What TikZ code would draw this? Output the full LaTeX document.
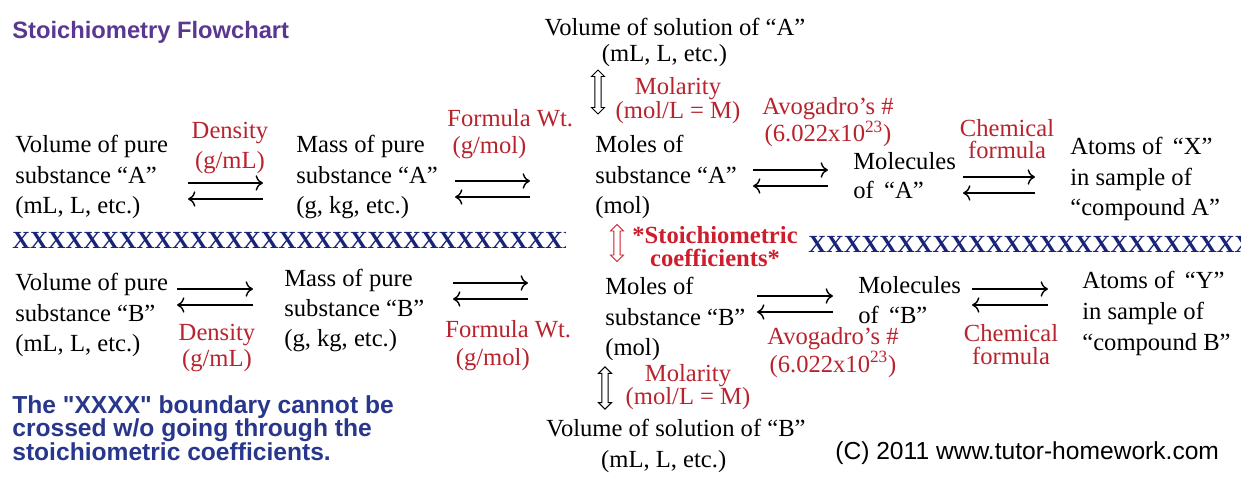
\documentclass[tikz,border=0pt]{standalone}
\usepackage{fontspec}
\setmainfont{Liberation Serif}
\newfontfamily\arialfont{Liberation Sans}
\usetikzlibrary{shapes.arrows,arrows.meta}
\definecolor{labred}{RGB}{185,35,45}
\definecolor{stored}{RGB}{205,30,45}
\definecolor{titlepurple}{RGB}{90,55,145}
\definecolor{notenavy}{RGB}{40,55,140}
\definecolor{xnavy}{RGB}{25,35,120}
\tikzset{
  txt/.style={font=\fontsize{14}{#1}\selectfont, align=left, anchor=base west, inner sep=0pt},
  txt/.default=17.6,
  ctxt/.style={txt=#1, align=center, anchor=base},
  ctxt/.default=17.6,
  lbl/.style={ctxt=#1, text=labred},
  lbl/.default=14.2,
  fwd/.style={-{To[scale=1.25]}, line width=0.8pt},
  hollow/.style={double arrow, draw, line width=0.55pt, rotate=90, inner sep=1.5pt,
    double arrow head extend=1.9pt, double arrow head indent=0pt, minimum height=#1},
  xrow/.style={font=\fontsize{14}{14}\selectfont\bfseries, text=xnavy, anchor=base west, inner sep=0pt},
  sans/.style={anchor=base west, inner sep=0pt, align=left}
}
\begin{document}
\begin{tikzpicture}[x=0.02cm, y=-0.02cm]
    \fill[white] (0,0) rectangle (1250,496);
    \useasboundingbox (0,0) rectangle (1250,496);
    % Title
    \node[sans, text=titlepurple, font=\arialfont\bfseries\fontsize{13.5}{16}\selectfont] (title) at (12,39) {Stoichiometry Flowchart};
    % Substance A row (nodes sit on the baseline of their last line)
    \node[txt] (volA) at (15,214) {Volume of pure\\substance “A”\\(mL, L, etc.)};
    \node[lbl=17.6] (denA) at (230,169) {Density\\(g/mL)};
    \node[txt] (massA) at (296,214) {Mass of pure\\substance “A”\\(g, kg, etc.)};
    \node[lbl=15.9, align=left, anchor=base west] (fwA) at (447,154) {Formula Wt.\\\hspace*{3pt}(g/mol)};
    \node[ctxt=15.3] (solA) at (675,62) {Volume of solution of “A”\\(mL, L, etc.)\hspace*{12pt}};
    \node[hollow=25pt] (upA) at (598,92) {};
    \node[lbl] (molA) at (678,119) {Molarity\\(mol/L = M)};
    \node[txt] (molesA) at (595,214) {Moles of\\substance “A”\\(mol)};
    \node[lbl] (avoA) at (828,142) {Avogadro’s \#\\(6.022x10\textsuperscript{23})};
    \node[txt=17] (molecA) at (853,199) {Molecules\\of \,“A”};
    \node[lbl=13] (chemA) at (1007,159) {Chemical\\formula};
    \node[txt] (atomsA) at (1070,216) {Atoms of \,“X”\\in sample of\\“compound A”};
    % The boundary
    \begin{scope}
      \clip (12,225) rectangle (565,262);
      \node[xrow] (xxL) at (12,249) {XXXXXXXXXXXXXXXXXXXXXXXXXXXXXXXXXXXXXXXX};
    \end{scope}
    \begin{scope}
      \clip (808,228) rectangle (1240,265);
      \node[xrow] (xxR) at (808,253) {XXXXXXXXXXXXXXXXXXXXXXXXXXXXXXXXXXXXXXXX};
    \end{scope}
    \node[hollow=21pt, draw=stored] (stoArr) at (617,243) {};
    \node[ctxt=13.5, text=stored, font=\fontsize{14}{13.5}\selectfont\bfseries] (stoich) at (715,267) {*Stoichiometric\\coefficients*};
    % Substance B row
    \node[txt] (volB) at (15,352) {Volume of pure\\substance “B”\\(mL, L, etc.)};
    \node[lbl=14.7] (denB) at (217,366) {Density\\(g/mL)};
    \node[txt=17] (massB) at (284,346) {Mass of pure\\substance “B”\\(g, kg, etc.)};
    \node[lbl=15.9, align=left, anchor=base west] (fwB) at (445,365) {Formula Wt.\\\hspace*{6pt}(g/mol)};
    \node[txt] (molesB) at (605,356) {Moles of\\substance “B”\\(mol)};
    \node[txt=17] (molecB) at (858,323) {Molecules\\of \,“B”};
    \node[lbl=14.7] (avoB) at (833,372) {Avogadro’s \#\\(6.022x10\textsuperscript{23})};
    \node[lbl=13] (chemB) at (1011,364) {Chemical\\formula};
    \node[txt] (atomsB) at (1082,350) {Atoms of \,“Y”\\in sample of\\“compound B”};
    \node[hollow=24pt] (upB) at (605,388) {};
    \node[lbl=13] (molB) at (688,404) {Molarity\\(mol/L = M)};
    \node[ctxt] (solB) at (676,467) {Volume of solution of “B”\\(mL, L, etc.)\hspace*{14pt}};
    % Reaction arrows, forward above and back below
    \foreach \nm/\xa/\xb/\ya in {d1/188/263/183, f1/455/530/181, a1/753/828/170, c1/963/1035/177,
        d2/177/253/289, f2/453/528/283, a2/757/833/296, c2/972/1048/289}{
      \coordinate (\nm-w) at (\xa,\ya);
      \coordinate (\nm-e) at (\xb,\ya);
      \coordinate (\nm-bw) at (\xa,\ya+16);
      \coordinate (\nm-be) at (\xb,\ya+16);
      \draw[fwd] (\nm-w) -- (\nm-e);
      \draw[fwd] (\nm-be) -- (\nm-bw);
    }
    % Notes
    \node[sans, text=notenavy, font=\arialfont\bfseries\fontsize{14}{13.3}\selectfont] (note) at (12,460)
      {The "XXXX" boundary cannot be\\crossed w/o going through the\\stoichiometric coefficients.};
    \node[sans, font=\arialfont\fontsize{14}{16}\selectfont] (copy) at (835,459) {(C) 2011 www.tutor-homework.com};
\end{tikzpicture}
\end{document}
